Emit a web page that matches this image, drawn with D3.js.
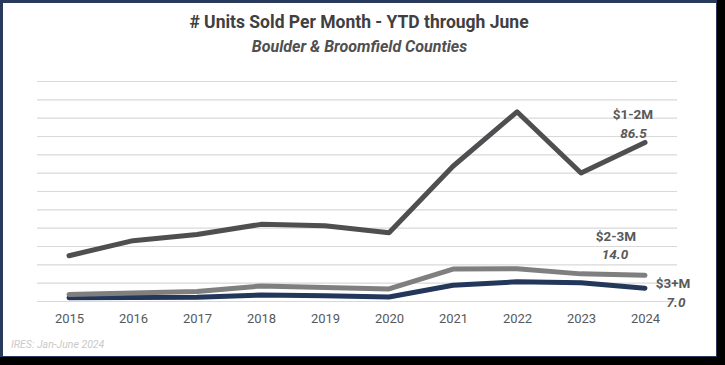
<!DOCTYPE html>
<html><head><meta charset="utf-8">
<script src="https://cdn.jsdelivr.net/npm/d3@7"></script>
<style>html,body{margin:0;padding:0;background:#000;}svg{display:block;}</style>
</head><body>
<svg id="c" width="725" height="365"></svg>
<script>
const years = [2015,2016,2017,2018,2019,2020,2021,2022,2023,2024];
const s12 = [24.7,32.9,36.3,41.8,41.1,37.2,73.5,103.2,69.8,86.5];
const s23 = [3.6,4.4,5.2,8.2,7.4,6.6,17.4,17.6,14.8,14.0];
const s3p = [1.8,1.9,2.0,3.3,2.9,2.2,8.6,10.5,9.9,7.0];
const seriesNames = ["$1-2M","$2-3M","$3+M"];
const seriesLabels = ["86.5","14.0","7.0"];
const yTicks = d3.range(0,121,10);
const title = "# Units Sold Per Month - YTD through June";
const subtitle = "Boulder & Broomfield Counties";
const source = "IRES: Jan-June 2024";

const svg = d3.select("#c");
svg.append("rect").attr("x",0).attr("y",0).attr("width",725).attr("height",365).attr("fill","#000");
svg.append("rect").attr("x",0).attr("y",0).attr("width",717).attr("height",357).attr("fill","#2a3a5c");
svg.append("rect").attr("x",3).attr("y",3).attr("width",713).attr("height",353).attr("fill","#fff");

const x = d3.scalePoint().domain(years).range([37,677]).padding(0.5);
const y = d3.scaleLinear().domain([0,120]).range([301,81]);

const grid = svg.append("g").attr("transform","translate(37,0)")
  .call(d3.axisLeft(y).tickValues(yTicks).tickSize(-640).tickFormat(""));
grid.select(".domain").remove();
grid.selectAll(".tick line").attr("stroke","#d9d9d9").attr("stroke-width",1.2);

const xa = svg.append("g").attr("transform","translate(0,301)")
  .call(d3.axisBottom(x).tickSize(0).tickPadding(13).tickFormat(d3.format("d")));
xa.select(".domain").remove();
xa.selectAll("text").attr("font-family","Roboto, sans-serif").attr("font-size",13).attr("fill","#595959");

const line = d3.line().x((d,i)=>x(years[i])).y(d=>y(d));
const colors = ["#4f4f51","#7f7f7f","#22375a"];
[s3p,s23,s12].forEach((s,k)=>{
  const idx = [2,1,0][k];
  svg.append("path").datum(s).attr("d",line).attr("fill","none")
    .attr("stroke",colors[idx]).attr("stroke-width",5)
    .attr("stroke-linecap","round").attr("stroke-linejoin","round");
});

svg.append("text").attr("x",359).attr("y",28).attr("text-anchor","middle")
  .attr("font-family","Roboto, sans-serif").attr("font-weight","bold").attr("font-size",17.5)
  .attr("fill","#404040").text(title);
svg.append("text").attr("x",359.5).attr("y",51.5).attr("text-anchor","middle")
  .attr("font-family","Roboto, sans-serif").attr("font-weight","bold").attr("font-style","italic").attr("font-size",16)
  .attr("fill","#505050").text(subtitle);

const lab = [
  {n:0, x:633, y:114, vx:633.5, vy:133},
  {n:1, x:616, y:236, vx:615, vy:254},
  {n:2, x:673, y:283.5, vx:676, vy:302}
];
lab.forEach(l=>{
  svg.append("text").attr("x",l.x).attr("y",l.y).attr("dy","0.35em").attr("text-anchor","middle")
    .attr("font-family","Roboto, sans-serif").attr("font-weight","bold").attr("font-size",13.5)
    .attr("fill","#595959").text(seriesNames[l.n]);
  svg.append("text").attr("x",l.vx).attr("y",l.vy).attr("dy","0.35em").attr("text-anchor","middle")
    .attr("font-family","Roboto, sans-serif").attr("font-weight","bold").attr("font-style","italic").attr("font-size",13.5)
    .attr("fill","#595959").text(seriesLabels[l.n]);
});

svg.append("text").attr("x",11).attr("y",348)
  .attr("font-family","Roboto, sans-serif").attr("font-style","italic").attr("font-size",10.5)
  .attr("fill","#c9c9c9").text(source);
</script>
</body></html>
